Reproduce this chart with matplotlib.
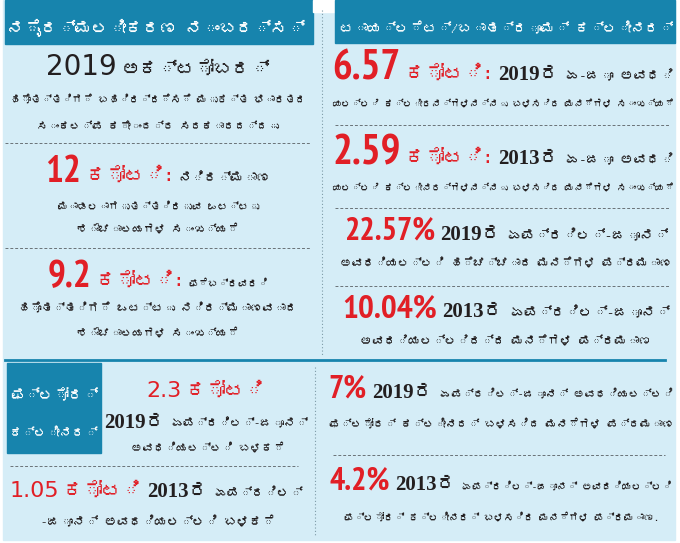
import matplotlib
matplotlib.use('Agg')
import matplotlib.pyplot as plt
from matplotlib import font_manager as fm
from matplotlib.patches import Rectangle

# ---- text / values ----
left_title = 'ನೈರ್ಮಲೀಕರಣ ನಂಬರ್ಸ್'
right_title = 'ಟಾಯ್ಲೆಟ್/ಬಾತ್ರೂಮ್ ಕ್ಲೀನರ್'
floor_title = ['ಫ್ಲೋರ್', 'ಕ್ಲೀನರ್']
koti = 'ಕೋಟಿ'

goal_year = 2019
goal_lines = ['ಅಕ್ಟೋಬರ್', 'ಹೊತ್ತಿಗೆ ಬಹಿರ್ದೆಸೆ ಮುಕ್ತ ಭಾರತದ', 'ಸಂಕಲ್ಪ ಕೇಂದ್ರ ಸರಕಾರದ್ದು']

toilet_koti = [12, 9.2]
toilet_lines = [['ನಿರ್ಮಾಣ', 'ಮಾಡಲಾಗುತ್ತಿರುವ ಒಟ್ಟು', 'ಶೌಚಾಲಯಗಳ ಸಂಖ್ಯೆ'],
                ['ಫೆಬ್ರವರಿ', 'ಹೊತ್ತಿಗೆ ಒಟ್ಟು ನಿರ್ಮಾಣವಾದ', 'ಶೌಚಾಲಯಗಳ ಸಂಖ್ಯೆ']]

cleaner_koti = [6.57, 2.59]
cleaner_years = ['2019', '2013']
cleaner_lines = ['ಯಲ್ಲಿ ಕ್ಲೀರನ್ಗಳನ್ನು ಬಳಸಿದ ಮನೆಗಳ ಸಂಖ್ಯೆ',
                 'ಯಲ್ಲಿ ಕ್ಲೀನರ್ಗಳನ್ನು ಬಳಸಿದ ಮನೆಗಳ ಸಂಖ್ಯೆ']

cleaner_pct = [22.57, 10.04]
cleaner_pct_years = ['2019', '2013']
cleaner_pct_lines = ['ಅವಧಿಯಲ್ಲಿ ಹೆಚ್ಚಾದ ಮನೆಗಳ ಪ್ರಮಾಣ', 'ಅವಧಿಯಲ್ಲಿದ್ದ ಮನೆಗಳ ಪ್ರಮಾಣ']

floor_koti = [2.3, 1.05]
floor_years = ['2019', '2013']

floor_pct = [7, 4.2]
floor_pct_years = ['2019', '2013']
floor_pct_lines = ['ಫ್ಲೋರ್ ಕ್ಲೀನರ್ ಬಳಸಿದ ಮನೆಗಳ ಪ್ರಮಾಣ', 'ಫ್ಲೋರ್ ಕ್ಲೀನರ್ ಬಳಸಿದ ಮನೆಗಳ ಪ್ರಮಾಣ.']

april_june = 'ಏಪ್ರಿಲ್-ಜೂನ್'
a_j = 'ಏ-ಜೂ ಅವಧಿ'
ra = 'ರ'

TEAL = '#1784ad'
BG = '#d5edf7'
RED = '#e11f26'
INK = '#231f20'


def kannada_family():
    # any installed font that carries Kannada glyphs
    for path in fm.findSystemFonts():
        try:
            if 0x0C95 in fm.get_font(path).get_charmap():
                fm.fontManager.addfont(path)
                return fm.FontProperties(fname=path).get_name()
        except Exception:
            pass
    return None


def narrow_bold():
    # a condensed bold face for the big red figures, if one is installed
    best = None
    for f in fm.fontManager.ttflist:
        w = f.weight if isinstance(f.weight, int) else fm.weight_dict.get(f.weight, 400)
        nm = f.name + ' ' + str(f.style)
        narrow = ('Narrow' in f.fname or 'Condensed' in f.fname or 'Narrow' in nm
                  or 'Condensed' in nm or 'condensed' in str(f.stretch))
        if narrow and w >= 600 and f.style == 'normal':
            rank = 0 if 'Narrow' in f.fname else 1
            if best is None or rank < best[0]:
                best = (rank, f.fname)
    return best[1] if best else None


kn = kannada_family()
KN = [kn, 'DejaVu Sans'] if kn else ['DejaVu Sans']
nb = narrow_bold()
NUM = dict(fontproperties=fm.FontProperties(fname=nb)) if nb else \
    dict(family=['DejaVu Sans'], weight='bold', stretch='condensed')

STY = {
    'num':  dict(color=RED, **NUM),
    'numr': dict(family=['DejaVu Sans'], color=RED),
    'red':  dict(family=KN, weight='bold', color=RED),
    'kn':   dict(family=KN, weight='bold', color=INK),
    'knw':  dict(family=KN, weight='bold', color='white'),
    'ser':  dict(family=['Liberation Serif'] + KN, weight='bold', color=INK),
    'sans': dict(family=['DejaVu Sans'], color=INK),
}
SHRINK = ('kn', 'knw')

fig = plt.figure(figsize=(6.8, 5.43), dpi=100)
ax = fig.add_axes([0, 0, 1, 1])
ax.set_xlim(0, 680)
ax.set_ylim(543, 0)
ax.axis('off')
R = fig.canvas.get_renderer()


def put(cx, y, segs, refw, panel, gap=5):
    # segs: (text, style, size); the plain kannada parts shrink if the line
    # runs much wider than the line in the reference
    maxw = min(panel, refw * 1.12)
    arts = []
    for s, k, sz in segs:
        t = ax.text(0, y, s, ha='left', va='baseline', **STY[k])
        t.set_fontsize(sz)
        arts.append(t)
    w = [a.get_window_extent(R).width for a in arts]
    total = sum(w) + gap * (len(w) - 1)
    kw = sum(wi for wi, sg in zip(w, segs) if sg[1] in SHRINK)
    if total > maxw and kw > 0:
        f = max(0.3, (maxw - (total - kw)) / kw)
        for a, sg in zip(arts, segs):
            if sg[1] in SHRINK:
                a.set_fontsize(sg[2] * f)
        w = [a.get_window_extent(R).width for a in arts]
        total = sum(w) + gap * (len(w) - 1)
    x = cx - total / 2
    for a, wi in zip(arts, w):
        a.set_x(x)
        x += wi + gap


def dash(x0, x1, y):
    ax.plot([x0, x1], [y, y], color='#6a7378', lw=0.7, dashes=(3, 2))


def fmt(v):
    return f'{v:g}'


# background and frames
ax.add_patch(Rectangle((3, 0), 672, 540, color=BG, zorder=0))
ax.add_patch(Rectangle((5, 0), 308, 44, color=TEAL, zorder=1))
ax.add_patch(Rectangle((313, 0), 22, 12, color='white', zorder=1))
ax.add_patch(Rectangle((335, 0), 340, 43, color=TEAL, zorder=1))
ax.add_patch(Rectangle((7, 363), 94, 90, color=TEAL, zorder=1))
ax.plot([322, 322], [10, 355], color='#7d9aa6', lw=0.8, ls=(0, (1, 2)))
ax.plot([315, 315], [367, 537], color='#7d9aa6', lw=0.8, ls=(0, (1, 2)))
ax.plot([5, 665], [360, 360], color=TEAL, lw=2)

# headers
put(156, 33, [(left_title, 'knw', 22)], 298, 298)
put(506, 33, [(right_title, 'knw', 21)], 332, 332)
put(54, 400, [(floor_title[0], 'knw', 18)], 88, 88)
put(54, 437, [(floor_title[1], 'knw', 18)], 88, 88)

# left column: sanitation numbers
LC = 158
P = 298
put(LC, 75, [(str(goal_year), 'sans', 20), (goal_lines[0], 'kn', 17)], 200, P)
put(LC, 103, [(goal_lines[1], 'kn', 14)], 265, P)
put(LC, 130, [(goal_lines[2], 'kn', 14)], 216, P)
dash(5, 310, 143)

ys = [(182, 210, 233), (287, 313, 337)]
rw = [(202, 181, 145), (198, 250, 145)]
for i in range(2):
    put(LC, ys[i][0], [(fmt(toilet_koti[i]), 'num', 27), (koti + ':', 'red', 14),
                       (toilet_lines[i][0], 'kn', 14)], rw[i][0], P)
    put(LC, ys[i][1], [(toilet_lines[i][1], 'kn', 14)], rw[i][1], P)
    put(LC, ys[i][2], [(toilet_lines[i][2], 'kn', 14)], rw[i][2], P)
dash(5, 310, 248)

# right column: toilet / bathroom cleaner
RC = 503
P = 342
cy = [(80, 107), (164, 191)]
for i in range(2):
    put(RC, cy[i][0], [(fmt(cleaner_koti[i]), 'num', 30), (koti + ':', 'red', 14),
                       (cleaner_years[i] + ra, 'ser', 15), (a_j, 'kn', 14)], 322, P)
    put(RC, cy[i][1], [(cleaner_lines[i], 'kn', 14)], 341, P)
dash(335, 670, 125)
dash(335, 670, 208)

py = [(240, 268), (317, 345)]
rw = [(290, 298), (292, 262)]
for i in range(2):
    put(RC + 3, py[i][0], [(fmt(cleaner_pct[i]) + '%', 'num', 23 + i),
                           (cleaner_pct_years[i] + ra, 'ser', 15), (april_june, 'kn', 14)],
        rw[i][0], P)
    put(RC + 3, py[i][1], [(cleaner_pct_lines[i], 'kn', 14)], rw[i][1], P)
dash(335, 670, 286)

# bottom left: floor cleaner usage
put(205, 397, [(fmt(floor_koti[0]), 'numr', 16), (koti, 'red', 14)], 113, 200)
put(206, 428, [(floor_years[0] + ra, 'ser', 15), (april_june, 'kn', 14)], 192, 205)
put(208, 452, [('ಅವಧಿಯಲ್ಲಿ ಬಳಕೆ', 'kn', 14)], 137, 205)
dash(10, 298, 466)
put(156, 497, [(fmt(floor_koti[1]), 'numr', 16), (koti, 'red', 14),
               (floor_years[1] + ra, 'ser', 15), ('ಏಪ್ರಿಲ್', 'kn', 14)], 262, 295)
put(158, 526, [('-ಜೂನ್ ಅವಧಿಯಲ್ಲಿ ಬಳಕೆ', 'kn', 14)], 210, 295)

# bottom right: floor cleaner share
fy = [(398, 428), (490, 521)]
rw = [(340, 340), (340, 283)]
for i in range(2):
    put(RC - 2, fy[i][0], [(fmt(floor_pct[i]) + '%', 'num', 23),
                           (floor_pct_years[i] + ra, 'ser', 15),
                           (april_june + ' ಅವಧಿಯಲ್ಲಿ', 'kn', 14)], rw[i][0], 345)
    put(RC - 2, fy[i][1], [(floor_pct_lines[i], 'kn', 14)], rw[i][1], 345)
dash(333, 665, 455)

fig.savefig('out.png', dpi=100)
